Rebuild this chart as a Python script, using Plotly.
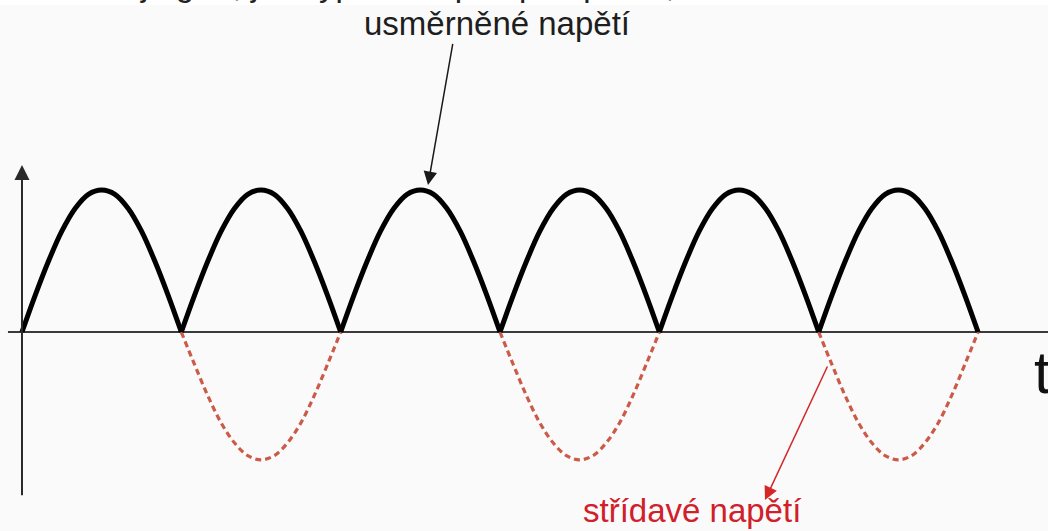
import plotly.graph_objects as go

# WAVEFORM DATA ########################################################################################

# time is measured in half periods of the mains voltage
half_wave_starts = [0, 1, 2, 3, 4, 5]          # arches of the rectified voltage
ac_negative_starts = [1, 3, 5]                 # negative half-waves of the AC voltage (dashed)

arch_phase = [0, 1 / 12, 2 / 12, 3 / 12, 4 / 12, 5 / 12, 6 / 12, 7 / 12, 8 / 12, 9 / 12, 10 / 12, 11 / 12, 1]
rectified_arch = [0, 0.26, 0.5, 0.71, 0.87, 0.97, 1.0, 0.97, 0.87, 0.71, 0.5, 0.26, 0]
ac_arch = [0, -0.23, -0.45, -0.64, -0.78, -0.87, -0.9, -0.87, -0.78, -0.64, -0.45, -0.23, 0]

label_rectified = "usměrněné napětí"
label_ac = "střídavé napětí"
label_time = "t"
caption = "Níže je graf, jak vypadá napětí po úpravě,"


def build_wave(starts, arch):
    # each half-wave is its own segment so the cusps at zero stay sharp
    xs, ys = [], []
    for start in starts:
        xs += [start + p for p in arch_phase] + [None]
        ys += list(arch) + [None]
    return xs, ys


rect_x, rect_y = build_wave(half_wave_starts, rectified_arch)
ac_x, ac_y = build_wave(ac_negative_starts, ac_arch)

FONT = "Liberation Sans, Arial, sans-serif"

fig = go.Figure()

fig.add_trace(go.Scatter(x=ac_x, y=ac_y, mode="lines", line_shape="spline",
                         line=dict(color="#cc5a48", width=3.2, dash="6px,4px"),
                         connectgaps=False, hoverinfo="skip"))
fig.add_trace(go.Scatter(x=rect_x, y=rect_y, mode="lines", line_shape="spline",
                         line=dict(color="#000000", width=5),
                         connectgaps=False, hoverinfo="skip"))

# time axis
fig.add_shape(type="line", xref="x", yref="y", x0=-0.088, x1=6.6, y0=0, y1=0,
              line=dict(color="#3a3a3a", width=2), layer="below")
# white strip at the very top of the page
fig.add_shape(type="rect", xref="paper", yref="paper", x0=0, x1=1, y0=1 - 5 / 531, y1=1.01,
              fillcolor="#ffffff", line=dict(width=0), layer="below")

# voltage axis with arrow
fig.add_annotation(x=0, y=1.176, ax=0, ay=-1.16, xref="x", yref="y", axref="x", ayref="y",
                   text="", showarrow=True, arrowhead=2, arrowsize=1.5, arrowwidth=2,
                   arrowcolor="#2a2a2a")

# pointer to the rectified voltage
fig.add_annotation(x=2.548, y=1.035, ax=2.705, ay=2.04, xref="x", yref="y", axref="x", ayref="y",
                   text="", showarrow=True, arrowhead=2, arrowsize=1.8, arrowwidth=1.5,
                   arrowcolor="#1a1a1a")
# pointer to the AC voltage
fig.add_annotation(x=4.663, y=-1.183, ax=5.059, ay=-0.232, xref="x", yref="y", axref="x", ayref="y",
                   text="", showarrow=True, arrowhead=2, arrowsize=1.8, arrowwidth=1.5,
                   arrowcolor="#d42828")

# labels
fig.add_annotation(x=497 / 1048, y=1 - 23 / 531, xref="paper", yref="paper", text=label_rectified,
                   showarrow=False, xanchor="center", yanchor="middle",
                   font=dict(family=FONT, size=33, color="#1e1e1e"))
fig.add_annotation(x=692 / 1048, y=1 - 510 / 531, xref="paper", yref="paper", text=label_ac,
                   showarrow=False, xanchor="center", yanchor="middle",
                   font=dict(family=FONT, size=33, color="#d0202a"))
fig.add_annotation(x=1032 / 1048, y=1 - 372 / 531, xref="paper", yref="paper", text=label_time,
                   showarrow=False, xanchor="left", yanchor="middle",
                   font=dict(family=FONT, size=60, color="#111111"))
fig.add_annotation(x=62 / 1048, y=1 - 5 / 531, xref="paper", yref="paper", text=caption,
                   showarrow=False, xanchor="left", yanchor="bottom",
                   font=dict(family=FONT, size=33, color="#222222"))

fig.update_layout(
    width=1048, height=531, autosize=False,
    margin=dict(l=0, r=0, t=0, b=0),
    paper_bgcolor="#fafafa", plot_bgcolor="#fafafa",
    showlegend=False,
    xaxis=dict(range=[-0.138, 6.439], visible=False, fixedrange=True),
    yaxis=dict(range=[-1.401, 2.338], visible=False, fixedrange=True),
)

# drop the default page margin so the figure sits at the window's corner
fig.write_html("out.html", config={"displayModeBar": False},
               post_script="document.body.style.margin='0';document.body.style.overflow='hidden';")
